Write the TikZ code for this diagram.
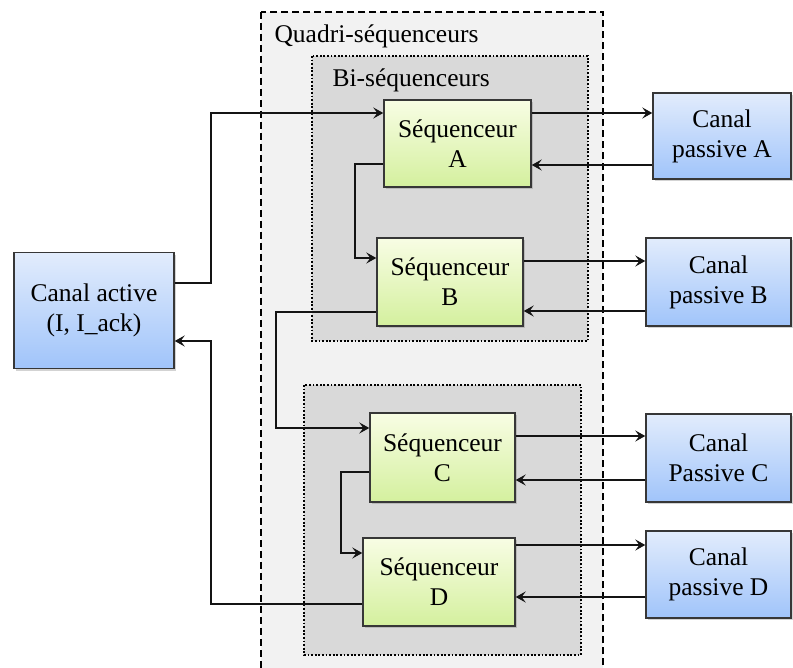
\documentclass[tikz,border=0pt]{standalone}
\usepackage{fontspec}
\setmainfont{Liberation Serif}
\usetikzlibrary{arrows.meta,shadows}
\definecolor{quadfill}{RGB}{242,242,242}
\definecolor{bifill}{RGB}{217,217,217}
\definecolor{greentop}{RGB}{248,253,228}
\definecolor{greenbot}{RGB}{212,240,158}
\definecolor{bluetop}{RGB}{226,236,252}
\definecolor{bluebot}{RGB}{160,196,250}
\definecolor{edge}{RGB}{55,55,55}
\definecolor{wire}{RGB}{20,20,20}
\tikzset{
  txt/.style={font=\fontsize{25.5}{30}\selectfont, text=black},
  box/.style={txt, draw=edge, line width=1.4pt, align=center, inner sep=0pt,
    drop shadow={shadow xshift=2pt, shadow yshift=-2pt, opacity=0.35}},
  seqbox/.style={box, top color=greentop, bottom color=greenbot},
  chanbox/.style={box, top color=bluetop, bottom color=bluebot},
  quadbox/.style={draw=black, fill=quadfill, line width=2.4pt, dash pattern=on 7pt off 4pt},
  bibox/.style={draw=black, fill=bifill, line width=1.8pt, dash pattern=on 1.8pt off 1.8pt},
  arr/.style={draw=wire, line width=2.3pt, -{Stealth[length=10pt,width=11pt,inset=4pt]}},
}
\begin{document}
\begin{tikzpicture}[x=1pt, y=-1pt]
\useasboundingbox (0,0) rectangle (793,668);
\clip (0,0) rectangle (793,668);
% container boxes
\draw[quadbox] (261,12) rectangle (603,690);
\draw[bibox] (312,56) rectangle (588,341);
\draw[bibox] (304,385) rectangle (581,655);
\node[txt, anchor=base west] (quadlbl) at (271,43) {Quadri-séquenceurs};
\node[txt, anchor=base west] (bilbl) at (329,87) {Bi-séquenceurs};
% sequencers
\node[seqbox, minimum width=147pt, minimum height=87pt] (A) at (457.5,143.5) {Séquenceur\\A};
\node[seqbox, minimum width=146pt, minimum height=88pt] (B) at (450,282) {Séquenceur\\B};
\node[seqbox, minimum width=145pt, minimum height=89pt] (C) at (442.5,457.5) {Séquenceur\\C};
\node[seqbox, minimum width=152pt, minimum height=88pt] (D) at (439,582) {Séquenceur\\D};
% channels
\node[chanbox, minimum width=138pt, minimum height=86pt] (PA) at (722,136) {Canal\\passive A};
\node[chanbox, minimum width=145pt, minimum height=88pt] (PB) at (718.5,282) {Canal\\passive B};
\node[chanbox, minimum width=145pt, minimum height=88pt] (PC) at (718.5,458) {Canal\\Passive C};
\node[chanbox, minimum width=145pt, minimum height=87pt] (PD) at (718.5,574.5) {Canal\\passive D};
\node[chanbox, minimum width=160pt, minimum height=116pt] (act) at (94,310.7) {Canal active\\(I, I\_ack)};
% connectors
\draw[arr] (act.east |- 0,283) -| (211,113) -- (A.west |- 0,113);
\draw[arr] (D.west |- 0,604) -| (211,341) -- (act.east |- 0,341);
\draw[arr] (A.east |- 0,113) -- (PA.west |- 0,113);
\draw[arr] (PA.west |- 0,165) -- (A.east |- 0,165);
\draw[arr] (B.east |- 0,261) -- (PB.west |- 0,261);
\draw[arr] (PB.west |- 0,311) -- (B.east |- 0,311);
\draw[arr] (C.east |- 0,436) -- (PC.west |- 0,436);
\draw[arr] (PC.west |- 0,480) -- (C.east |- 0,480);
\draw[arr] (D.east |- 0,545) -- (PD.west |- 0,545);
\draw[arr] (PD.west |- 0,597) -- (D.east |- 0,597);
\draw[arr] (A.west |- 0,164) -| (355,258) -- (B.west |- 0,258);
\draw[arr] (B.west |- 0,312) -| (276,428) -- (C.west |- 0,428);
\draw[arr] (C.west |- 0,472) -| (341,553) -- (D.west |- 0,553);
\end{tikzpicture}
\end{document}
